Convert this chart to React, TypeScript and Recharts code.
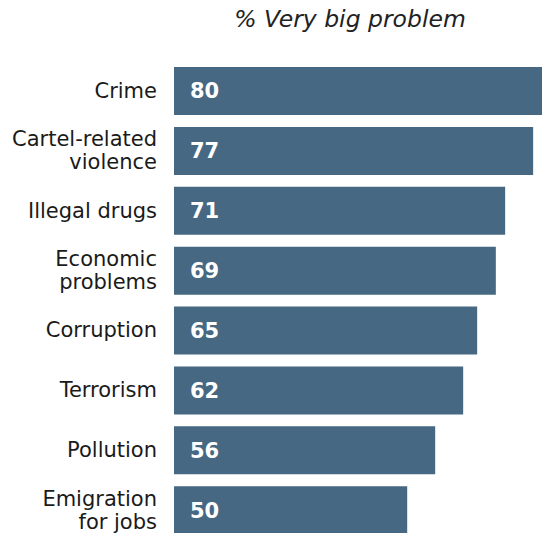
import { Bar, BarChart, LabelList, XAxis, YAxis } from "recharts"

const categories = [
  "Crime",
  "Cartel-related\nviolence",
  "Illegal drugs",
  "Economic\nproblems",
  "Corruption",
  "Terrorism",
  "Pollution",
  "Emigration\nfor jobs",
]
const veryBig = [80, 77, 71, 69, 65, 62, 56, 50]

const data = categories.map((name, i) => ({ name, value: veryBig[i] }))

const FONT = "'DejaVu Sans', Verdana, sans-serif"

function CategoryTick({ x, y, payload }: any) {
  const lines = String(payload.value).split("\n")
  const lineH = 23
  const startY = y - ((lines.length - 1) * lineH) / 2
  return (
    <text x={x} y={startY} textAnchor="end" fill="#1a1a1a" fontSize={21} fontFamily={FONT} dominantBaseline="central">
      {lines.map((l, i) => (
        <tspan key={i} x={x} y={startY + i * lineH} dominantBaseline="central">
          {l}
        </tspan>
      ))}
    </text>
  )
}

export default function App() {
  return (
    <div style={{ position: "absolute", left: 0, top: 0, width: 542, height: 533, overflow: "hidden", background: "#fff" }}>
      <div
        style={{
          position: "absolute",
          left: 150,
          width: 400,
          top: 5,
          textAlign: "center",
          fontFamily: FONT,
          fontStyle: "italic",
          fontSize: 23.5,
          color: "#222",
        }}
      >
        % Very big problem
      </div>
      <BarChart
        width={542}
        height={540}
        data={data}
        layout="vertical"
        margin={{ top: 61, right: 0, bottom: 0, left: 0 }}
        barCategoryGap={6}
      >
        <XAxis type="number" domain={[0, 78.9]} allowDataOverflow hide />
        <YAxis
          type="category"
          dataKey="name"
          width={174}
          axisLine={false}
          tickLine={false}
          tickMargin={11}
          interval={0}
          tick={<CategoryTick />}
        />
        <Bar dataKey="value" fill="#466882" isAnimationActive={false}>
          <LabelList
            dataKey="value"
            position="insideLeft"
            offset={16}
            fill="#fff"
            fontSize={21}
            fontWeight="bold"
            fontFamily={FONT}
          />
        </Bar>
      </BarChart>
    </div>
  )
}
